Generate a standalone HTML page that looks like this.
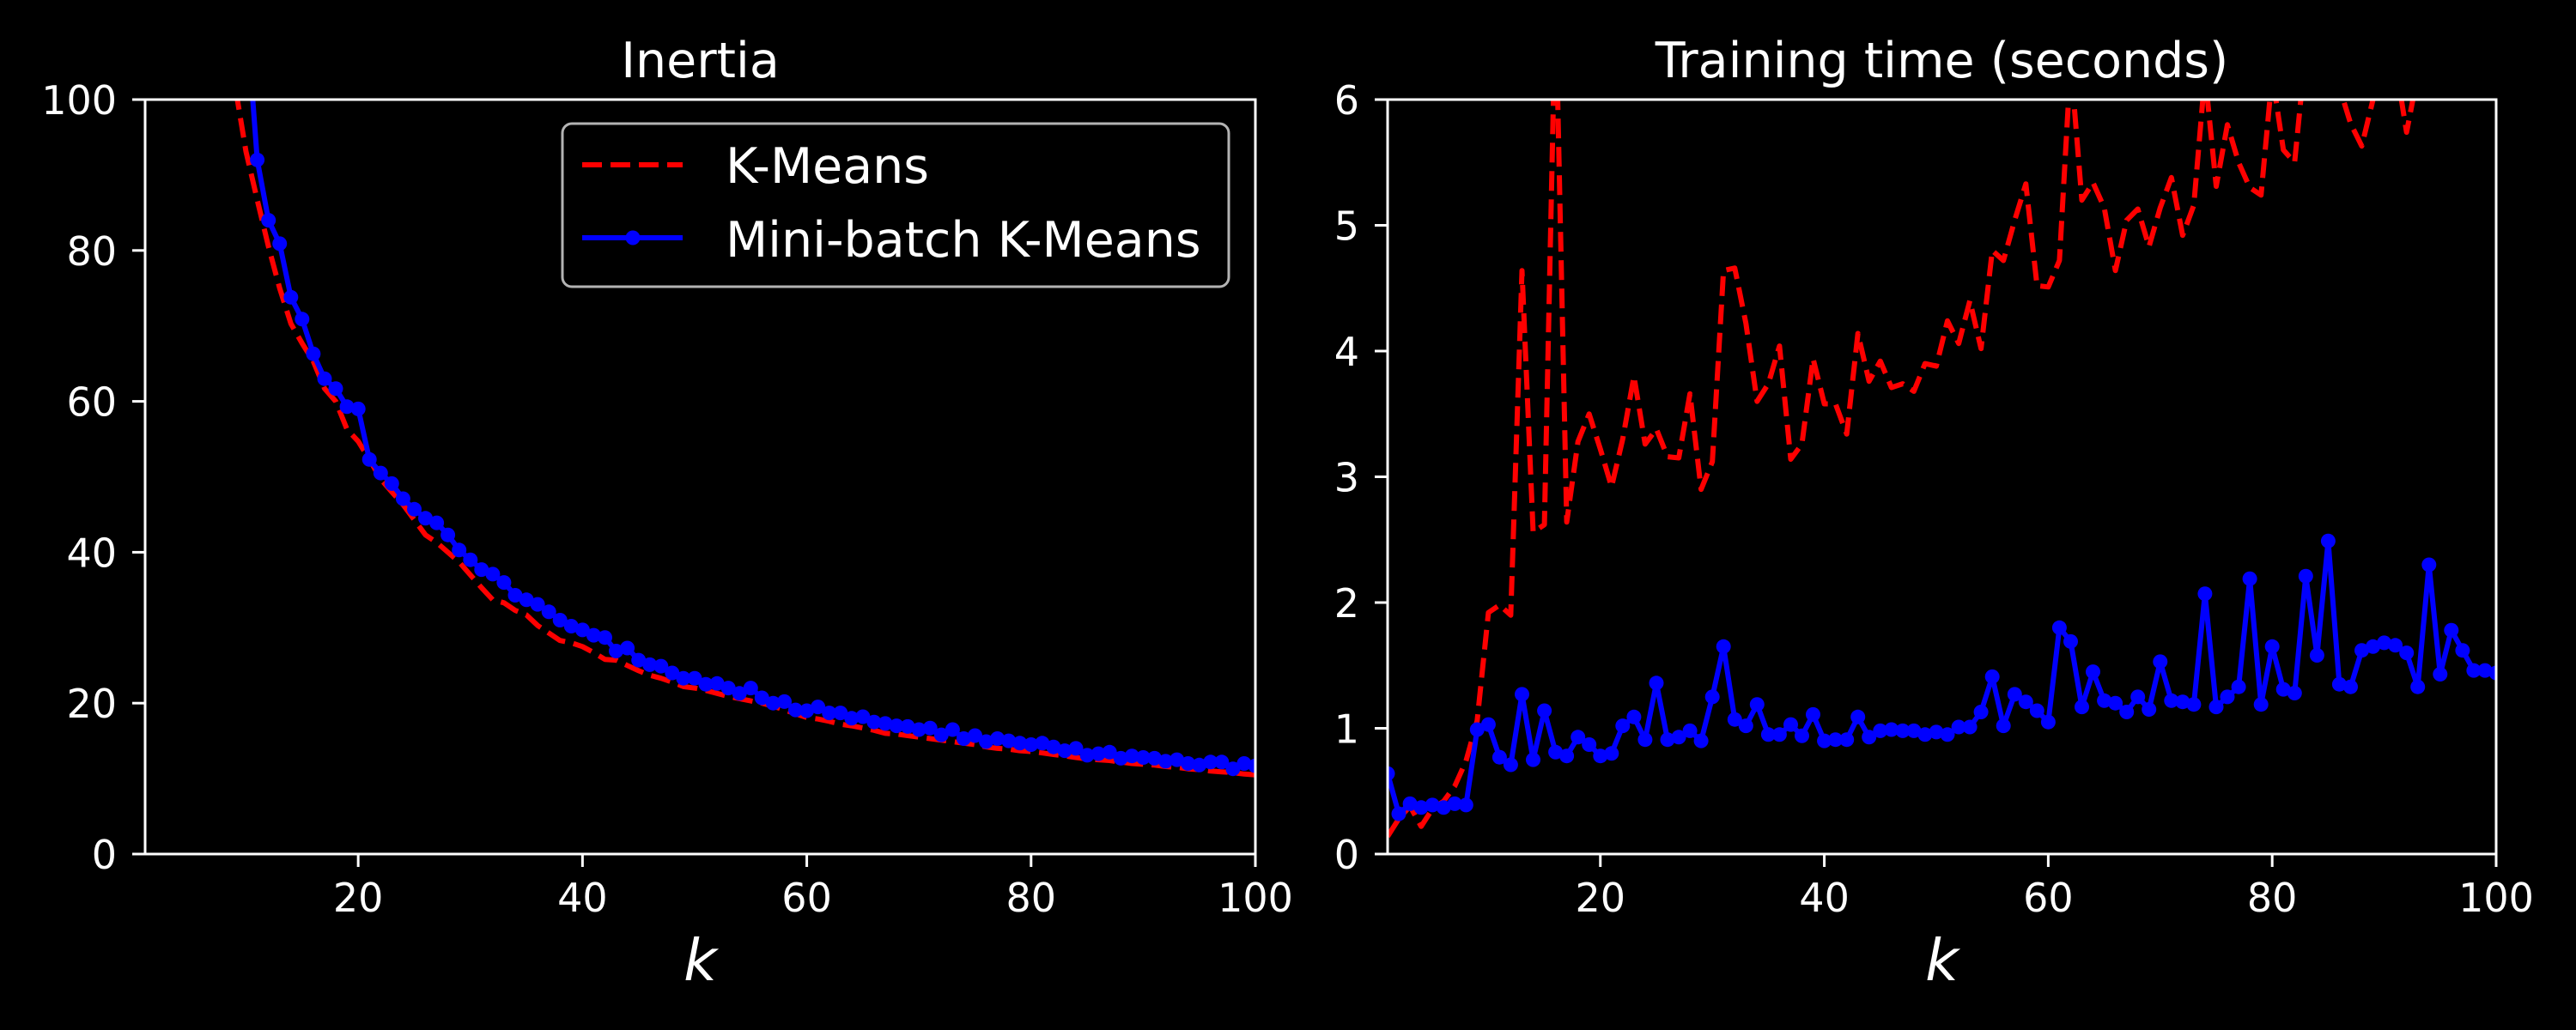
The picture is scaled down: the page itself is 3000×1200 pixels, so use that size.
<!DOCTYPE html>
<html>
<head>
<meta charset="utf-8">
<style>
html,body{margin:0;padding:0;background:#000;}
svg{display:block;}
text{font-family:"DejaVu Sans","Liberation Sans",sans-serif;fill:#fff;}
</style>
</head>
<body>
<svg id="fig" width="3000" height="1200" viewBox="0 0 3000 1200" xmlns="http://www.w3.org/2000/svg">
<rect x="0" y="0" width="3000" height="1200" fill="#000"/>
<defs>
<clipPath id="clipL"><rect x="169" y="115" width="1294" height="880"/></clipPath>
<clipPath id="clipR"><rect x="1616" y="115" width="1292" height="880"/></clipPath>
</defs>
<g id="left"></g>
<g id="right"></g>
</svg>
<script>
const kValues = Array.from({length:100},(_, i)=>i+1);
const xTicks = [20,40,60,80,100];
const inertiaTicks = [0,20,40,60,80,100];
const timeTicks = [0,1,2,3,4,5,6];
const inertiaKMeans = [1400,650,400,280,210,170,140,118,102,93.1,
86.7,80.5,75,70.3,67.7,65.3,61.7,60,56.3,54.7,
52.3,49.7,48,46.3,44.3,42.3,41.3,40,38.7,37,
35.3,33.7,33.3,32.3,31.7,30.3,29.3,28.3,28,27.5,
26.7,25.8,25.7,25,24.3,23.7,23.3,22.8,22.2,22,
21.7,21.3,20.9,20.6,20.3,20.0,19.6,19.1,18.6,18.1,
17.9,17.6,17.2,17.0,16.7,16.4,16.0,15.9,15.7,15.5,
15.3,15.1,14.9,14.7,14.5,14.2,14.0,13.9,13.7,13.6,
13.4,13.2,13.0,12.8,12.6,12.5,12.4,12.2,12.0,11.9,
11.8,11.6,11.5,11.3,11.2,11.0,10.9,10.8,10.6,10.5];
const inertiaMiniBatch = [1500,700,430,300,230,190,160,140,125,112,
92.0,84.0,80.9,73.8,70.9,66.3,63.0,61.7,59.3,59.0,
52.3,50.5,49.1,47.1,45.7,44.5,43.9,42.3,40.3,39.0,
37.7,37.1,36.0,34.3,33.7,33.1,32.1,31.0,30.2,29.7,
29.0,28.7,26.9,27.3,25.7,25.1,24.9,24.0,23.3,23.3,
22.5,22.6,22.0,21.3,22.0,20.7,20.0,20.2,19.1,19.0,
19.5,18.7,18.7,18.0,18.2,17.5,17.3,17.0,16.9,16.5,
16.7,15.8,16.5,15.3,15.7,14.9,15.3,15.0,14.7,14.5,
14.7,14.2,13.7,14.0,13.1,13.3,13.5,12.7,13.0,12.8,
12.7,12.3,12.5,12.0,11.8,12.2,12.2,11.3,12.0,11.7];
const timeKMeans = [0.14,0.28,0.38,0.22,0.36,0.42,0.54,0.74,1.06,1.92,
1.98,1.90,4.64,2.56,2.62,6.8,2.64,3.28,3.50,3.22,
2.92,3.30,3.80,3.26,3.38,3.16,3.15,3.66,2.90,3.12,
4.64,4.66,4.22,3.60,3.74,4.04,3.14,3.26,3.94,3.58,
3.58,3.34,4.14,3.76,3.92,3.71,3.74,3.68,3.90,3.88,
4.24,4.06,4.40,4.02,4.80,4.72,5.04,5.33,4.52,4.51,
4.72,6.3,5.20,5.34,5.14,4.64,5.04,5.13,4.83,5.14,
5.38,4.92,5.16,6.2,5.31,5.80,5.50,5.30,5.24,6.2,
5.6,5.5,6.4,6.5,6.6,6.1,5.81,5.63,6.0,6.4,
6.3,5.74,6.2,6.5,6.7,6.8,7.0,7.1,7.2,7.3];
const timeMiniBatch = [0.64,0.32,0.40,0.37,0.39,0.37,0.40,0.39,0.99,1.03,
0.77,0.71,1.27,0.75,1.14,0.81,0.78,0.93,0.87,0.78,
0.80,1.02,1.09,0.91,1.36,0.91,0.93,0.98,0.90,1.25,
1.65,1.07,1.02,1.19,0.95,0.95,1.03,0.94,1.11,0.90,
0.91,0.91,1.09,0.93,0.98,0.99,0.98,0.98,0.95,0.97,
0.95,1.01,1.01,1.13,1.41,1.02,1.27,1.21,1.14,1.05,
1.80,1.69,1.17,1.45,1.22,1.20,1.13,1.25,1.15,1.53,
1.22,1.21,1.19,2.07,1.17,1.25,1.33,2.19,1.19,1.65,
1.31,1.28,2.21,1.58,2.49,1.35,1.33,1.62,1.65,1.68,
1.66,1.60,1.33,2.30,1.43,1.78,1.62,1.46,1.46,1.44];

const NS = "http://www.w3.org/2000/svg";
function mk(tag, attrs, parent){
  const e = document.createElementNS(NS, tag);
  for (const k in attrs) e.setAttribute(k, attrs[k]);
  parent.appendChild(e);
  return e;
}

function drawPanel(g, cfg){
  const {x0,x1,y0,y1,xmin,xmax,ymin,ymax,yticks,title,clip,red,blue} = cfg;
  const X = k => x0 + (k - xmin) / (xmax - xmin) * (x1 - x0);
  const Y = v => y1 - (v - ymin) / (ymax - ymin) * (y1 - y0);
  // title
  const t = mk('text', {x:(x0+x1)/2, y:90, 'font-size':57, 'text-anchor':'middle'}, g);
  t.textContent = title;
  
  
  // data
  const dg = mk('g', {'clip-path':'url(#'+clip+')'}, g);
  
  
  const redPts = kValues.map((k,i)=>X(k).toFixed(1)+','+Y(red[i]).toFixed(1)).join(' ');
  const rl = mk('polyline', {points:redPts, fill:'none', stroke:'#ff0000', 'stroke-width':6, 'stroke-dasharray':'23 10', 'stroke-linejoin':'round'}, dg);
  
  
  const bluePts = kValues.map((k,i)=>X(k).toFixed(1)+','+Y(blue[i]).toFixed(1)).join(' ');
  const bl = mk('polyline', {points:bluePts, fill:'none', stroke:'#0000ff', 'stroke-width':6, 'stroke-linejoin':'round'}, dg);
  
  
  kValues.forEach((k,i)=>{
    const c = mk('circle', {cx:X(k).toFixed(1), cy:Y(blue[i]).toFixed(1), r:8.5, fill:'#0000ff'}, dg);
    
    
  });
  // spines
  const sp = mk('rect', {x:x0, y:y0, width:x1-x0, height:y1-y0, fill:'none', stroke:'#fff', 'stroke-width':3}, g);
  
  
  // x ticks
  xTicks.forEach(v=>{
    const x = X(v);
    const tk = mk('line', {x1:x, y1:y1, x2:x, y2:y1+15, stroke:'#fff', 'stroke-width':3}, g);
    
    
    const lb = mk('text', {x:x, y:1062, 'font-size':46, 'text-anchor':'middle'}, g);
    lb.textContent = v;
    
    
  });
  yticks.forEach(v=>{
    const y = Y(v);
    const tk = mk('line', {x1:x0-15, y1:y, x2:x0, y2:y, stroke:'#fff', 'stroke-width':3}, g);
    
    
    const lb = mk('text', {x:x0-33, y:y+17, 'font-size':46, 'text-anchor':'end'}, g);
    lb.textContent = v;
    
    
  });
  const xl = mk('text', {x:(x0+x1)/2, y:1142, 'font-size':67, 'font-style':'italic', 'text-anchor':'middle'}, g);
  xl.textContent = 'k';
  
  
}

const left = document.getElementById('left');
const right = document.getElementById('right');
drawPanel(left, {x0:169,x1:1462,y0:116,y1:995,xmin:1,xmax:100,ymin:0,ymax:100,yticks:inertiaTicks,title:'Inertia',clip:'clipL',red:inertiaKMeans,blue:inertiaMiniBatch});
drawPanel(right, {x0:1616,x1:2907,y0:116,y1:995,xmin:1,xmax:100,ymin:0,ymax:6,yticks:timeTicks,title:'Training time (seconds)',clip:'clipR',red:timeKMeans,blue:timeMiniBatch});

// legend
const lg = mk('g', {}, left);


const box = mk('rect', {x:655, y:144, width:776, height:190, rx:11, ry:11, fill:'#000', stroke:'#b3b3b3', 'stroke-width':3}, lg);


const e1 = mk('line', {x1:678, y1:192, x2:795, y2:192, stroke:'#ff0000', 'stroke-width':6, 'stroke-dasharray':'23 10'}, lg);


const t1 = mk('text', {x:845, y:213, 'font-size':57}, lg);
t1.textContent = 'K-Means';


const e2 = mk('line', {x1:678, y1:277, x2:795, y2:277, stroke:'#0000ff', 'stroke-width':6}, lg);


const e2d = mk('circle', {cx:737, cy:277, r:8.5, fill:'#0000ff'}, lg);


const t2 = mk('text', {x:845, y:299, 'font-size':57}, lg);
t2.textContent = 'Mini-batch K-Means';


</script>
</body>
</html>
